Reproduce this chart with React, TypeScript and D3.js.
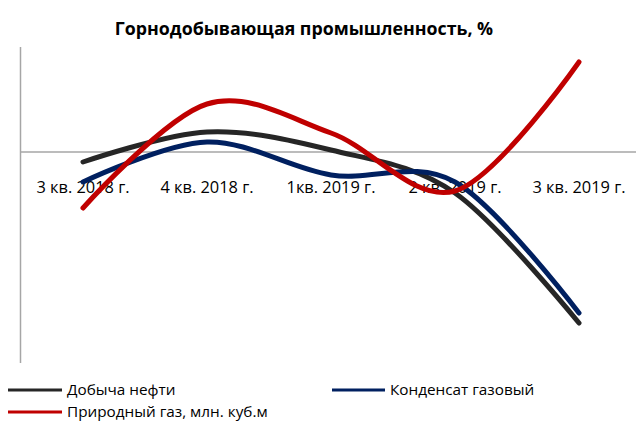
import React from "react";
import * as d3 from "d3";

const categories = ["3 кв. 2018 г.", "4 кв. 2018 г.", "1кв. 2019 г.", "2 кв. 2019 г.", "3 кв. 2019 г."];
const oil = [-1.0, 2.0, 0.2, -4.1, -17.1];
const condensate = [-3.0, 1.0, -2.3, -3.0, -16.1];
const gas = [-5.6, 4.8, 1.9, -3.9, 9.0];

const seriesNames = ["Добыча нефти", "Конденсат газовый", "Природный газ, млн. куб.м"];
const seriesColors = ["#262626", "#002060", "#C00000"];
const title = "Горнодобывающая промышленность, %";

const W = 636;
const H = 421;
const FONT = "'Open Sans', 'Noto Sans', sans-serif";

export default function App() {
  const x = d3.scaleBand<string>().domain(categories).range([21, 641]);
  const y = d3.scaleLinear().domain([-21.1, 10.4]).range([363, 48]);
  const line = d3
    .line<number>()
    .x((_, i) => (x(categories[i]) as number) + x.bandwidth() / 2)
    .y((d) => y(d))
    .curve(d3.curveCardinal.tension(0));

  const series = [oil, condensate, gas];
  const drawOrder = [0, 1, 2];

  return (
    <svg width={W} height={H} style={{ position: "absolute", left: 0, top: 0, background: "#fff" }}>
      <rect width={W} height={H} fill="#fff" />
      <text x={304} y={35} textAnchor="middle" fontFamily={FONT} fontWeight={700} fontSize={17.8} fill="#000">
        {title}
      </text>
      <line x1={20.5} x2={20.5} y1={47} y2={363} stroke="#a6a6a6" strokeWidth={1.5} />
      <line x1={20} x2={W} y1={y(0)} y2={y(0)} stroke="#a6a6a6" strokeWidth={1.5} />
      {categories.map((c) => (
        <text
          key={c}
          x={(x(c) as number) + x.bandwidth() / 2}
          y={193}
          textAnchor="middle"
          fontFamily={FONT}
          fontSize={16.4}
          fill="#000"
        >
          {c}
        </text>
      ))}
      {drawOrder.map((si) => (
        <path
          key={si}
          d={line(series[si]) || ""}
          fill="none"
          stroke={seriesColors[si]}
          strokeWidth={5}
          strokeLinecap="round"
          strokeLinejoin="round"
        />
      ))}
      {[
        { si: 0, lx: 8, lx2: 62, tx: 67, ly: 390, ty: 395 },
        { si: 1, lx: 332, lx2: 385, tx: 390, ly: 390, ty: 395 },
        { si: 2, lx: 8, lx2: 62, tx: 67, ly: 412, ty: 417 },
      ].map(({ si, lx, lx2, tx, ly, ty }) => (
        <g key={si}>
          <line x1={lx} x2={lx2} y1={ly} y2={ly} stroke={seriesColors[si]} strokeWidth={3} />
          <text x={tx} y={ty} fontFamily={FONT} fontSize={15.3} fill="#000">
            {seriesNames[si]}
          </text>
        </g>
      ))}
    </svg>
  );
}
